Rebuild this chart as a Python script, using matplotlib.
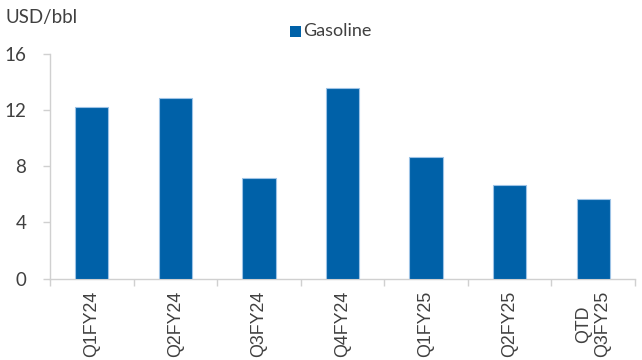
import matplotlib
matplotlib.use("Agg")
import matplotlib.pyplot as plt
from matplotlib.patches import Rectangle

categories = ["Q1FY24", "Q2FY24", "Q3FY24", "Q4FY24", "Q1FY25", "Q2FY25", "QTD\nQ3FY25"]
gasoline = [12.23, 12.84, 7.16, 13.6, 8.66, 6.66, 5.7]
yticks = [0, 4, 8, 12, 16]

BAR = "#0061A8"
EDGE = "#9DC3E6"
TEXT = "#404040"
AXIS = "#D0D0D0"

plt.rcParams["font.family"] = ["Lato", "DejaVu Sans"]

fig = plt.figure(figsize=(6.42, 3.6), dpi=100)
ax = fig.add_axes([50 / 642, 1 - 278.5 / 360, 585 / 642, 224.5 / 360])

x = list(range(len(categories)))
ax.bar(x, gasoline, width=0.4, color=BAR, edgecolor=EDGE, linewidth=0.8, zorder=3)

ax.set_xlim(-0.5, len(categories) - 0.5)
ax.set_ylim(0, 16)
ax.set_yticks(yticks)
ax.set_yticklabels([str(v) for v in yticks], fontsize=13.5, color=TEXT)

# category labels centred, tick marks at the boundaries
ax.set_xticks(x)
ax.set_xticklabels(categories, rotation=90, fontsize=12.8, color=TEXT,
                   family=["Liberation Sans", "DejaVu Sans"], linespacing=1.15)
ax.tick_params(axis="x", length=0, pad=9)
ax.set_xticks([i - 0.5 for i in range(len(categories) + 1)], minor=True)
ax.tick_params(axis="x", which="minor", length=5, width=1, color=AXIS, direction="out")
ax.tick_params(axis="y", length=5, width=1, color=AXIS, direction="out", pad=12)

for side in ("top", "right"):
    ax.spines[side].set_visible(False)
for side in ("left", "bottom"):
    ax.spines[side].set_color(AXIS)
    ax.spines[side].set_linewidth(1)

fig.text(6 / 642, 1 - 18 / 360, "USD/bbl", fontsize=13.5, color=TEXT, va="center", ha="left")

# legend entry
fig.patches.append(Rectangle((290 / 642, 1 - 36.5 / 360), 10.5 / 642, 10.5 / 360,
                             transform=fig.transFigure, facecolor=BAR, edgecolor="none"))
fig.text(303 / 642, 1 - 31.5 / 360, "Gasoline", fontsize=13, color=TEXT, va="center", ha="left")

fig.savefig("out.png", dpi=100)
